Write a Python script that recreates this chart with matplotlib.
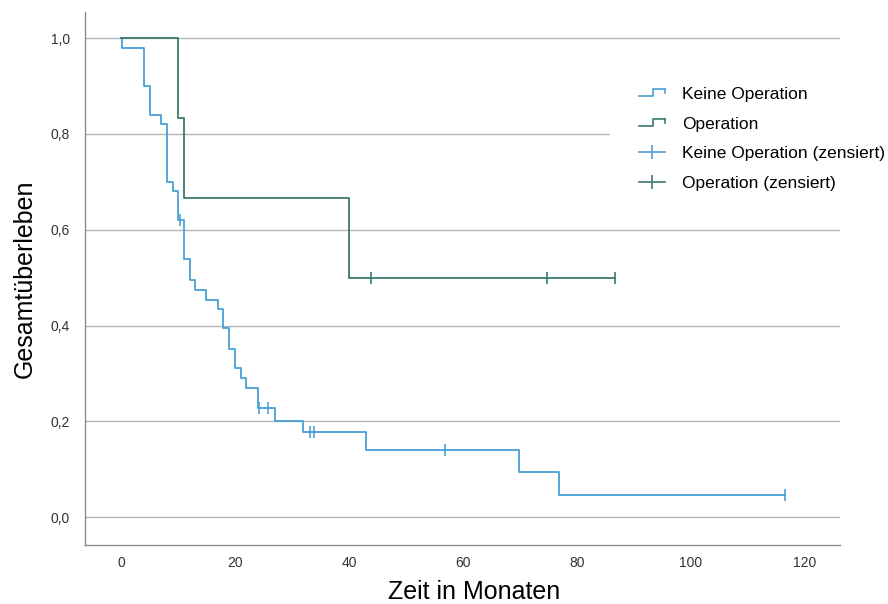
import matplotlib.pyplot as plt
from matplotlib.lines import Line2D
from matplotlib.legend_handler import HandlerBase

plt.rcParams['font.family'] = ['Liberation Sans', 'DejaVu Sans']

# Kaplan-Meier steps: (time of step, survival after step)
keine_t = [0, 0.2, 4.1, 5.1, 7.1, 8.1, 9.1, 10.1, 11.0, 12.1, 13.0, 15.0, 17.1, 17.9,
           18.9, 20.0, 21.0, 22.0, 24.0, 27.0, 32.0, 43.0, 69.8, 76.8, 116.5]
keine_s = [1.0, 0.980, 0.900, 0.839, 0.820, 0.699, 0.681, 0.620, 0.538, 0.496, 0.475,
           0.454, 0.434, 0.394, 0.352, 0.312, 0.290, 0.269, 0.227, 0.201, 0.178, 0.141,
           0.094, 0.047, 0.047]
keine_cens_t = [10.3, 24.2, 25.8, 33.1, 33.9, 56.8, 116.5]
keine_cens_s = [0.620, 0.227, 0.227, 0.178, 0.178, 0.141, 0.047]

op_t = [0, 10.1, 11.05, 40.0, 86.7]
op_s = [1.0, 0.833, 0.667, 0.5, 0.5]
op_cens_t = [43.9, 74.8, 86.7]
op_cens_s = [0.5, 0.5, 0.5]

blue = '#4a9fd8'
green = '#3a7a70'


class StepHandler(HandlerBase):
    # small step icon for the curve entries
    def create_artists(self, legend, orig_handle, xdescent, ydescent, width, height, fontsize, trans):
        x0 = -xdescent
        y0 = -ydescent
        xs = [x0, x0 + width * 0.55, x0 + width * 0.55, x0 + width]
        ys = [y0 + height * 0.2, y0 + height * 0.2, y0 + height * 0.8, y0 + height * 0.8]
        ln = Line2D(xs, ys, color=orig_handle.get_color(), lw=1.2, transform=trans)
        tail = Line2D([x0 + width, x0 + width], [y0 + height * 0.8, y0 + height * 0.45],
                      color=orig_handle.get_color(), lw=1.2, transform=trans)
        return [ln, tail]


fig = plt.figure(figsize=(8.88, 6.04), dpi=100)
ax = fig.add_axes([0.0957, 0.0977, 0.850, 0.882])

ax.step(keine_t, keine_s, where='post', color=blue, lw=1.3, zorder=3)
ax.step(op_t, op_s, where='post', color=green, lw=1.3, zorder=3)
ax.plot(keine_cens_t, keine_cens_s, ls='none', marker='|', ms=8, mew=1.2, color=blue, zorder=4)
ax.plot(op_cens_t, op_cens_s, ls='none', marker='|', ms=8, mew=1.2, color=green, zorder=4)

ax.set_xlim(-6.3, 126.1)
ax.set_ylim(-0.058, 1.054)
ax.set_xticks([0, 20, 40, 60, 80, 100, 120])
ax.set_yticks([0.0, 0.2, 0.4, 0.6, 0.8, 1.0])
ax.set_yticklabels(['0,0', '0,2', '0,4', '0,6', '0,8', '1,0'])
ax.tick_params(length=0, labelsize=10, colors='#333333')
ax.tick_params(axis='x', pad=8)
ax.tick_params(axis='y', pad=11)
ax.yaxis.grid(True, color='#b4b4b4', lw=1.0)
ax.set_axisbelow(True)
for side in ['top', 'right']:
    ax.spines[side].set_visible(False)
for side in ['left', 'bottom']:
    ax.spines[side].set_color('#8c8c8c')
    ax.spines[side].set_linewidth(1.0)

ax.set_xlabel('Zeit in Monaten', fontsize=18, labelpad=7)
ax.xaxis.label.set_x(0.515)
ax.set_ylabel('Gesamtüberleben', fontsize=18, labelpad=10)

h1 = Line2D([], [], color=blue)
h2 = Line2D([], [], color=green)
h3 = Line2D([], [], color=blue, marker='|', ms=10, mew=1.2, lw=1.2)
h4 = Line2D([], [], color=green, marker='|', ms=10, mew=1.2, lw=1.2)
leg = ax.legend([h1, h2, h3, h4],
                ['Keine Operation', 'Operation', 'Keine Operation (zensiert)', 'Operation (zensiert)'],
                handler_map={h1: StepHandler(), h2: StepHandler()},
                loc='upper left', bbox_to_anchor=(0.695, 0.916), fontsize=12.5,
                frameon=True, facecolor='white', edgecolor='white', framealpha=1,
                fancybox=False, handlelength=1.5, handletextpad=1.0,
                labelspacing=0.85, borderpad=1.7, borderaxespad=0)

fig.savefig('out.png', dpi=100)
